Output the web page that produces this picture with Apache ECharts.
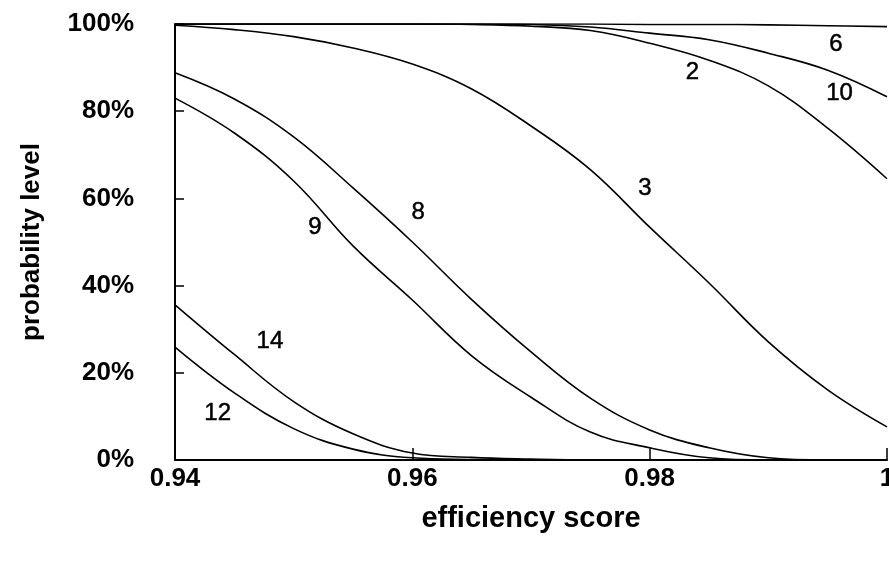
<!DOCTYPE html>
<html>
<head>
<meta charset="utf-8">
<script src="https://cdn.jsdelivr.net/npm/echarts@6/dist/echarts.min.js"></script>
<style>
  html, body { margin: 0; padding: 0; background: #fff; }
  #chart { width: 889px; height: 564px; }
</style>
</head>
<body>
<div id="chart"></div>
<script>
// efficiency score sample points
const xValues = [0.94, 0.945, 0.95, 0.955, 0.96, 0.965, 0.97, 0.975, 0.98, 0.985, 0.99, 0.995, 1.0];

// probability level (%) for each curve
const curve6  = [100, 100, 100, 100, 100, 100, 100, 100, 99.9, 99.9, 99.8, 99.6, 99.4];
const curve10 = [100, 100, 100, 100, 100, 100, 99.9, 99.3, 97.9, 96.4, 93.3, 89.4, 83.3];
const curve2  = [100, 100, 100, 100, 100, 99.9, 99.5, 98.5, 95.6, 91.7, 85.8, 76.1, 64.5];
const curve3  = [99.7, 98.7, 97.1, 94.5, 90.8, 85.1, 76.6, 66.6, 53.4, 40.6, 27.1, 16.1, 7.6];
const curve8  = [88.8, 82.8, 74.1, 62.4, 50.0, 36.8, 24.8, 14.2, 6.9, 2.8, 0.5, 0, 0];
const curve9  = [83.0, 75.0, 64.0, 49.1, 36.7, 23.9, 14.4, 6.4, 2.8, 0.5, 0, 0, 0];
const curve14 = [35.6, 24.2, 13.4, 6.0, 1.6, 0.6, 0.2, 0, 0, 0, 0, 0, 0];
const curve12 = [25.9, 15.4, 7.2, 2.5, 0.5, 0.1, 0, 0, 0, 0, 0, 0, 0];

const curveNames = ['6', '10', '2', '3', '8', '9', '14', '12'];
const curveValues = [curve6, curve10, curve2, curve3, curve8, curve9, curve14, curve12];

// curve label anchors (data coordinates)
const labelText = ['6', '2', '10', '3', '8', '9', '14', '12'];
const labelX = [0.9957, 0.9836, 0.9960, 0.9796, 0.9605, 0.9518, 0.9480, 0.9436];
const labelY = [95.3, 89.0, 84.2, 62.4, 56.9, 53.4, 27.1, 10.6];

// tick labels
const xTickLabels = {0.94: '0.94', 0.96: '0.96', 0.98: '0.98', 1: '1'};

const chart = echarts.init(document.getElementById('chart'), null, {renderer: 'canvas'});
const FONT = '"Liberation Sans", Arial, Helvetica, sans-serif';

const lineSeries = curveNames.map((name, i) => ({
  name: name,
  type: 'line',
  data: xValues.map((x, j) => [x, curveValues[i][j]]),
  smooth: 0.4,
  showSymbol: false,
  symbol: 'none',
  clip: true,
  lineStyle: { color: '#000', width: 1.6 },
  z: 3,
  silent: true
}));

const labelSeries = {
  type: 'scatter',
  symbolSize: 0,
  itemStyle: { opacity: 1, color: '#000' },
  data: labelText.map((t, i) => ({ name: t, value: [labelX[i], labelY[i]] })),
  label: {
    show: true,
    position: 'inside',
    formatter: p => p.name,
    color: '#000',
    opacity: 1,
    textBorderColor: '#000',
    textBorderWidth: 0.5,
    fontFamily: FONT,
    fontSize: 24,
    fontWeight: 'normal'
  },
  silent: true,
  z: 5
};

chart.setOption({
  animation: false,
  backgroundColor: '#fff',
  grid: { left: 175, right: 2, top: 24, bottom: 104, containLabel: false, outerBoundsMode: 'none' },
  xAxis: {
    type: 'value',
    min: 0.94,
    max: 1,
    interval: 0.02,
    name: 'efficiency score',
    nameLocation: 'middle',
    nameGap: 44,
    nameTextStyle: { color: '#000', fontFamily: FONT, fontSize: 29, fontWeight: 'bold' },
    axisLine: { show: true, onZero: false, lineStyle: { color: '#000', width: 2 } },
    axisTick: { show: true, inside: true, length: 12, lineStyle: { color: '#000', width: 1.5 } },
    axisLabel: {
      show: true, margin: 6, color: '#000', fontFamily: FONT, fontSize: 26, fontWeight: 'bold',
      formatter: v => xTickLabels[Math.round(v * 100) / 100] || '',
      showMinLabel: true, showMaxLabel: true, hideOverlap: false
    },
    splitLine: { show: false }
  },
  yAxis: {
    type: 'value',
    min: 0,
    max: 100,
    interval: 20,
    name: 'probability level',
    nameLocation: 'middle',
    nameGap: 130,
    nameRotate: 90,
    nameTextStyle: { color: '#000', fontFamily: FONT, fontSize: 26, fontWeight: 'bold' },
    axisLine: { show: true, lineStyle: { color: '#000', width: 2 } },
    axisTick: { show: true, inside: true, length: 9, lineStyle: { color: '#000', width: 1.5 } },
    axisLabel: {
      show: true, margin: 41, color: '#000', fontFamily: FONT, fontSize: 26, fontWeight: 'bold',
      formatter: '{value}%'
    },
    splitLine: { show: false }
  },
  series: lineSeries.concat([labelSeries])
});
</script>
</body>
</html>
